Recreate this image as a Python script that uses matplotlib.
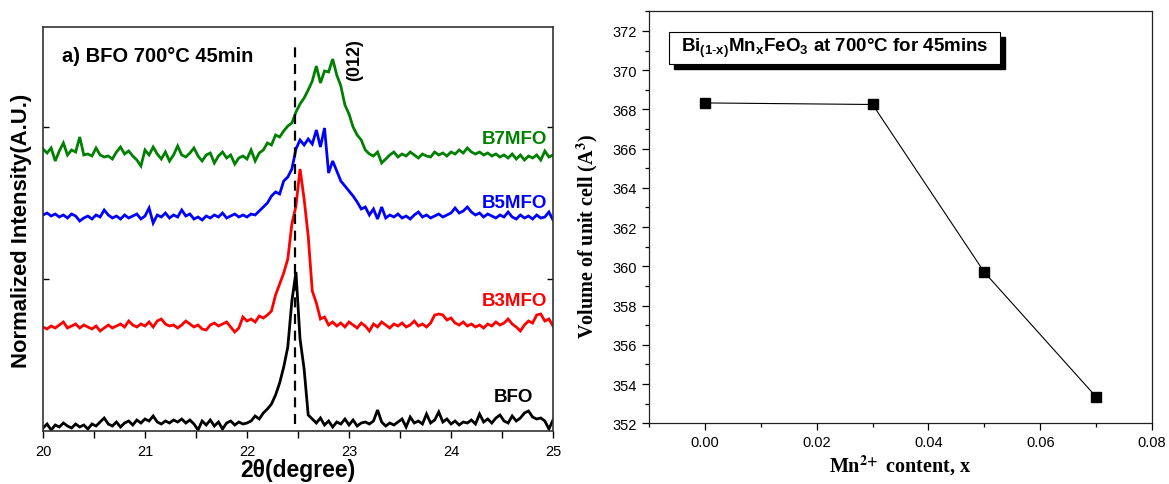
import numpy as np
import matplotlib
matplotlib.use("Agg")
import matplotlib.pyplot as plt
from matplotlib.patches import Rectangle
from matplotlib.ticker import MultipleLocator, FormatStrFormatter

plt.rcParams['font.family'] = ['Liberation Sans', 'DejaVu Sans']
plt.rcParams['mathtext.fontset'] = 'custom'
plt.rcParams['mathtext.bf'] = 'Liberation Sans:bold'
plt.rcParams['mathtext.rm'] = 'Liberation Sans'

# ---------------- XRD data around the (012) reflection ----------------
two_theta = np.round(np.arange(20.0, 25.0001, 0.04), 2)

bfo = [3, 7, 1, 6, 4, 8, 5, 3, 7, 4, 6, 2, 7, 5, 9, 13, 7, 5, 9, 4,
       8, 10, 6, 11, 8, 12, 10, 15, 9, 7, 10, 8, 11, 9, 12, 8, 11, 7, 1, 10,
       6, 11, 5, 9, 2, 8, 10, 6, 9, 7, 8, 10, 15, 12, 18, 22, 27, 36, 48, 64,
       84, 130, 159, 92, 62, 16, 12, 8, 13, 6, 10, 4, 9, 7, 12, 6, 11, 5, 8, 9,
       7, 10, 21, 9, 5, 8, 6, 9, 12, 4, 14, 8, 10, 7, 17, 8, 11, 19, 9, 12,
       7, 10, 6, 9, 8, 11, 7, 17, 9, 12, 8, 13, 16, 10, 8, 15, 10, 13, 18, 20,
       14, 12, 13, 10, 2, 11]

b3mfo = [104, 102, 105, 103, 106, 109, 103, 105, 107, 103, 106, 104, 102, 105, 100, 103, 106, 103, 105, 107,
         104, 110, 106, 104, 107, 105, 109, 104, 110, 112, 107, 105, 106, 103, 106, 110, 107, 104, 106, 102,
         101, 106, 108, 105, 107, 109, 104, 99, 103, 114, 110, 112, 109, 115, 113, 116, 120, 136, 147, 158,
         172, 207, 225, 262, 232, 195, 140, 128, 112, 114, 106, 109, 105, 108, 104, 109, 106, 103, 108, 105,
         100, 107, 104, 109, 106, 103, 107, 105, 108, 104, 106, 110, 105, 107, 104, 108, 116, 117, 116, 111,
         113, 108, 106, 109, 105, 107, 104, 106, 103, 107, 105, 109, 106, 108, 112, 107, 104, 100, 106, 110,
         108, 116, 117, 110, 112, 105]

b5mfo = [216, 218, 215, 217, 214, 216, 213, 217, 215, 210, 213, 215, 212, 216, 214, 221, 216, 213, 215, 212,
         216, 213, 215, 217, 212, 215, 223, 208, 216, 214, 218, 213, 216, 214, 221, 215, 217, 212, 214, 211,
         215, 213, 216, 214, 218, 213, 215, 217, 214, 216, 214, 217, 216, 220, 224, 228, 235, 239, 237, 250,
         254, 262, 282, 291, 286, 292, 287, 301, 284, 303, 258, 270, 260, 250, 245, 240, 235, 229, 222, 224,
         216, 222, 212, 224, 213, 216, 214, 217, 213, 215, 212, 216, 219, 214, 216, 213, 215, 217, 214, 216,
         218, 223, 218, 220, 224, 219, 216, 218, 214, 217, 215, 213, 216, 214, 219, 214, 212, 216, 213, 215,
         212, 216, 213, 214, 219, 211]

b7mfo = [282, 278, 283, 270, 280, 288, 276, 281, 279, 294, 276, 277, 275, 283, 276, 274, 275, 272, 279, 284,
         277, 280, 275, 271, 265, 281, 276, 284, 277, 272, 279, 270, 276, 285, 276, 274, 278, 283, 275, 270,
         276, 278, 268, 275, 279, 273, 276, 267, 273, 275, 272, 281, 270, 278, 281, 288, 286, 296, 294, 300,
         305, 308, 319, 327, 333, 341, 350, 365, 348, 360, 359, 372, 356, 345, 326, 317, 304, 296, 291, 281,
         277, 275, 279, 268, 272, 276, 279, 274, 277, 275, 279, 276, 273, 277, 275, 274, 279, 276, 278, 275,
         279, 277, 281, 278, 283, 279, 277, 279, 276, 278, 275, 277, 274, 276, 273, 277, 272, 276, 271, 275,
         273, 276, 271, 280, 274, 276]

sample_names = ["BFO", "B3MFO", "B5MFO", "B7MFO"]
sample_colors = ["black", "red", "blue", "green"]
peak_012 = 22.47

# ---------------- unit cell volume vs Mn content ----------------
mn_content = [0.00, 0.03, 0.05, 0.07]
cell_volume = [368.33, 368.25, 359.70, 353.35]

fig = plt.figure(figsize=(11.69, 4.85), dpi=100)

# ======== panel a: XRD patterns ========
ax1 = fig.add_axes([43 / 1169, 1 - 432 / 485, 510 / 1169, 404 / 485])
for y, c in zip([bfo, b3mfo, b5mfo, b7mfo], sample_colors):
    ax1.plot(two_theta, y, color=c, lw=2.0, solid_joinstyle='miter')
ax1.plot([peak_012, peak_012], [7, 385], color='black', lw=1.6, ls=(0, (4.5, 3)))
ax1.set_xlim(20, 25)
ax1.set_ylim(0, 404)
ax1.xaxis.set_major_locator(MultipleLocator(1))
ax1.xaxis.set_minor_locator(MultipleLocator(0.5))
ax1.set_yticks([152, 304])
ax1.set_yticklabels([])
ax1.tick_params(axis='x', which='both', direction='out', length=5, width=1, labelsize=10.5, pad=4)
ax1.tick_params(axis='y', which='both', direction='in', length=4, width=1, right=True)
for s in ax1.spines.values():
    s.set_linewidth(1.2)
    s.set_color('#333333')
ax1.set_xlabel("2θ(degree)", fontsize=16.5, fontweight='bold', labelpad=0)
ax1.set_ylabel("Normalized Intensity(A.U.)", fontsize=15.8, fontweight='bold')
ax1.yaxis.set_label_coords(-0.022, 0.4975)

ax1.text(20.19, 375, "a) BFO 700°C 45min", fontsize=14.5, fontweight='bold', va='center', ha='left')
ax1.text(23.06, 372, "(012)", fontsize=13, fontweight='bold', rotation=90, va='center', ha='center')
label_pos = {"B7MFO": (24.94, 292), "B5MFO": (24.94, 229), "B3MFO": (24.94, 130), "BFO": (24.81, 35)}
for name, c in zip(sample_names, sample_colors):
    x, y = label_pos[name]
    ax1.text(x, y, name, color=c, fontsize=13.5, fontweight='bold', ha='right', va='center')

# ======== panel b: cell volume ========
ax2 = fig.add_axes([649 / 1169, 1 - 424.3 / 485, 503 / 1169, 412 / 485])
ax2.plot(mn_content, cell_volume, color='black', lw=0.8, marker='s', ms=6.5,
         mfc='black', mec='black')
ax2.set_xlim(-0.01, 0.08)
ax2.set_ylim(352, 373)
ax2.xaxis.set_major_locator(MultipleLocator(0.02))
ax2.xaxis.set_minor_locator(MultipleLocator(0.01))
ax2.yaxis.set_major_locator(MultipleLocator(2))
ax2.yaxis.set_minor_locator(MultipleLocator(1))
ax2.xaxis.set_major_formatter(FormatStrFormatter('%.2f'))
ax2.tick_params(which='major', direction='out', length=5, width=0.9, labelsize=10.5)
ax2.tick_params(which='minor', direction='out', length=3, width=0.9)
for s in ax2.spines.values():
    s.set_linewidth(0.9)
    s.set_color('#222222')
ax2.set_xlabel(r"Mn$^{\mathbf{2\!+}}$ content, x", fontsize=14.5, fontweight='bold',
               family='Liberation Serif', math_fontfamily='stix', labelpad=3)
ax2.set_ylabel(r"Volume of unit cell (A$^{\mathbf{3}}$)", fontsize=14.5, fontweight='bold',
               family='Liberation Serif', math_fontfamily='stix')
ax2.yaxis.set_label_coords(-0.097, 0.455)

# title box with drop shadow
bx0, bx1 = (669 - 649) / 503, (1000 - 649) / 503
by0, by1 = (424.3 - 65) / 412, (424.3 - 33) / 412
dx, dy = 5 / 503, 5 / 412
ax2.add_patch(Rectangle((bx0 + dx, by0 - dy), bx1 - bx0, by1 - by0, transform=ax2.transAxes,
                        facecolor='black', edgecolor='black', zorder=5))
ax2.add_patch(Rectangle((bx0, by0), bx1 - bx0, by1 - by0, transform=ax2.transAxes,
                        facecolor='white', edgecolor='black', lw=0.8, zorder=6))
ax2.text((bx0 + bx1) / 2, (by0 + by1) / 2 + 0.002,
         r"Bi$_{\mathbf{(1\text{-}x)}}$Mn$_{\mathbf{x}}$FeO$_{\mathbf{3}}$ at 700°C for 45mins",
         transform=ax2.transAxes, fontsize=13.5, fontweight='bold', ha='center', va='center', zorder=7)

fig.savefig("out.png", dpi=100)
